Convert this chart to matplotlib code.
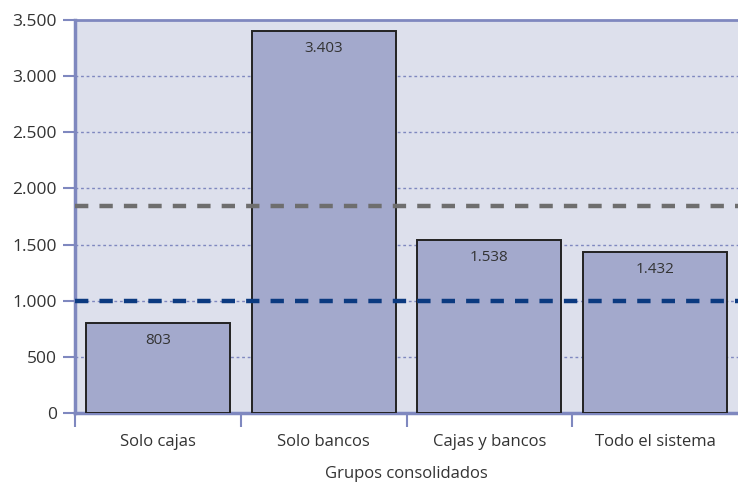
import matplotlib
matplotlib.use("Agg")
import matplotlib.pyplot as plt

categories = ["Solo cajas", "Solo bancos", "Cajas y bancos", "Todo el sistema"]
values = [803, 3403, 1538, 1432]
value_labels = ["803", "3.403", "1.538", "1.432"]
ref_grey = 1845
ref_blue = 1000
yticks = [0, 500, 1000, 1500, 2000, 2500, 3000, 3500]
ytick_labels = ["0", "500", "1.000", "1.500", "2.000", "2.500", "3.000", "3.500"]

plt.rcParams["font.family"] = ["Open Sans", "DejaVu Sans"]

axis_col = "#7f88bf"
text_col = "#333333"

fig = plt.figure(figsize=(7.38, 4.84), dpi=100)
ax = fig.add_axes([75 / 738, 1 - 413 / 484, 1 - 75 / 738, 393 / 484])
ax.set_facecolor("#dde0ec")

x = range(len(categories))
ax.bar(x, values, width=0.87, color="#a3a9cc", edgecolor="#222222", linewidth=1.4, zorder=3)

# value labels just under the top edge of each bar
for xi, v, lab in zip(x, values, value_labels):
    ax.text(xi, v - 90, lab, ha="center", va="top", fontsize=11, color=text_col, zorder=4)

for t in yticks[1:-1]:
    ax.axhline(t, color=axis_col, linestyle=(0, (2, 2)), linewidth=1, zorder=1)

ax.axhline(ref_grey, color="#6e6e6e", linestyle=(0, (3, 2.5)), linewidth=3.2, zorder=5)
ax.axhline(ref_blue, color="#0b3a80", linestyle=(0, (3, 2.5)), linewidth=3.2, zorder=5)

ax.set_xlim(-0.5, len(categories) - 0.5)
ax.set_ylim(0, 3500)
ax.set_yticks(yticks)
ax.set_yticklabels(ytick_labels, fontsize=12.5, color=text_col)
ax.set_xticks([i - 0.5 for i in range(len(categories))])
ax.set_xticklabels([])
ax.set_xticks(list(x), minor=True)
ax.set_xticklabels(categories, minor=True, fontsize=12, color=text_col)
ax.tick_params(axis="x", which="major", length=10, width=1.5, color=axis_col, direction="out")
ax.tick_params(axis="x", which="minor", length=0, pad=15)
ax.tick_params(axis="y", length=9, width=1.5, color=axis_col, direction="out", pad=4)

ax.spines["right"].set_visible(False)
ax.spines["top"].set_color(axis_col)
ax.spines["top"].set_linewidth(2)
for side in ["left", "bottom"]:
    ax.spines[side].set_color(axis_col)
    ax.spines[side].set_linewidth(2.5)

ax.set_xlabel("Grupos consolidados", fontsize=12, color=text_col, labelpad=12)

fig.savefig("out.png", dpi=100)
